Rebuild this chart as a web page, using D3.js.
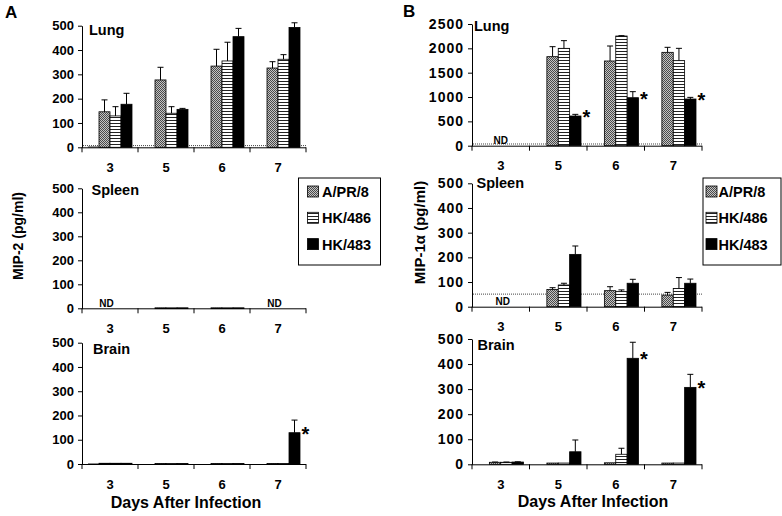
<!DOCTYPE html>
<html><head><meta charset="utf-8">
<script src="https://cdn.jsdelivr.net/npm/d3@7"></script>
<style>
html,body{margin:0;padding:0;background:#fff;}
svg{display:block;font-family:"Liberation Sans",Arial,sans-serif;}
</style></head>
<body>
<svg id="chart" width="782" height="516"></svg>
<script>
// ---------------- data ----------------
const days = ["3", "5", "6", "7"];
const strains = ["Mock", "A/PR/8", "HK/486", "HK/483"];
const legendStrains = ["A/PR/8", "HK/486", "HK/483"];
const ticks500 = [0, 100, 200, 300, 400, 500];
const ticks2500 = [0, 500, 1000, 1500, 2000, 2500];

// Panel A: MIP-2 (rows = strains in order Mock, A/PR/8, HK/486, HK/483; columns = days)
const mip2LungMean = [[3, 0, 0, 0], [146, 277, 334, 326], [129, 140, 355, 362], [177, 156, 455, 493]];
const mip2LungSD = [[0, 0, 0, 0], [49, 52, 69, 26], [38, 27, 77, 19], [45, 4, 34, 19]];
const mip2LungLimit = 7;
const mip2SpleenMean = [[0, 0, 0, 0], [0, 2, 2, 0], [0, 2, 2, 0], [0, 2, 2, 0]];
const mip2SpleenSD = [[0, 0, 0, 0], [0, 0, 0, 0], [0, 0, 0, 0], [0, 0, 0, 0]];
const mip2SpleenND = ["3", "7"];
const mip2BrainMean = [[2, 0, 0, 0], [3, 2, 2, 2], [3, 2, 2, 2], [3, 2, 2, 129]];
const mip2BrainSD = [[0, 0, 0, 0], [0, 0, 0, 0], [0, 0, 0, 0], [0, 0, 0, 52]];
const mip2BrainStars = ["7"];

// Panel B: MIP-1alpha
const mip1LungMean = [[0, 0, 0, 0], [0, 1829, 1740, 1918], [0, 2000, 2253, 1747], [0, 610, 986, 959]];
const mip1LungSD = [[0, 0, 0, 0], [0, 205, 308, 103], [0, 158, 7, 253], [0, 34, 124, 34]];
const mip1LungND = ["3"];
const mip1LungStars = ["5", "6", "7"];
const mip1LungLimit = 35;
const mip1SpleenMean = [[0, 0, 0, 0], [0, 70, 65, 47], [0, 88, 61, 74], [0, 212, 95, 95]];
const mip1SpleenSD = [[0, 0, 0, 0], [0, 7, 16, 11], [0, 7, 7, 44], [0, 34, 16, 17]];
const mip1SpleenND = ["3"];
const mip1SpleenLimit = 51;
const mip1BrainMean = [[0, 0, 0, 0], [8, 5, 6, 5], [8, 5, 40, 5], [9, 50, 423, 307]];
const mip1BrainSD = [[0, 0, 0, 0], [1, 0, 0, 0], [1, 0, 24, 0], [1, 47, 64, 52]];
const mip1BrainStars = ["6", "7"];

// ---------------- drawing ----------------
const svg = d3.select("#chart");
const defs = svg.append("defs");

// crosshatch grey texture
const p1 = defs.append("pattern").attr("id", "pat-apr8").attr("patternUnits", "userSpaceOnUse")
  .attr("width", 2).attr("height", 2);
p1.append("rect").attr("width", 2).attr("height", 2).attr("fill", "#c4c4c4");
p1.append("rect").attr("x", 0).attr("y", 0).attr("width", 1).attr("height", 1).attr("fill", "#4a4a4a");
p1.append("rect").attr("x", 1).attr("y", 1).attr("width", 1).attr("height", 1).attr("fill", "#4a4a4a");
// horizontal stripes
const p2 = defs.append("pattern").attr("id", "pat-hk486").attr("patternUnits", "userSpaceOnUse")
  .attr("width", 4).attr("height", 3);
p2.append("rect").attr("width", 4).attr("height", 3).attr("fill", "#fff");
p2.append("rect").attr("y", 0).attr("width", 4).attr("height", 1).attr("fill", "#222");

const fillOf = { "Mock": "#111", "A/PR/8": "url(#pat-apr8)", "HK/486": "url(#pat-hk486)", "HK/483": "#000" };

function drawPanel(cfg) {
  const g = svg.append("g");
  const x = d3.scaleBand().domain(days).range([cfg.x0, cfg.x1]);
  const xi = d3.scaleBand().domain(strains).range([6, x.bandwidth() - 6]);
  const y = d3.scaleLinear().domain([0, cfg.max]).range([cfg.yb, cfg.yt]);

  // detection limit dotted line
  if (cfg.limit != null) {
    g.append("line").attr("x1", cfg.x0 + 1).attr("x2", cfg.x1)
      .attr("y1", y(cfg.limit)).attr("y2", y(cfg.limit))
      .attr("stroke", "#444").attr("stroke-width", 1).attr("stroke-dasharray", "1,1");
  }

  // bars
  strains.forEach((s, si) => {
    days.forEach((d, di) => {
      const v = cfg.mean[si][di];
      if (v <= 0) return;
      const bx = x(d) + xi(s), bw = xi.bandwidth();
      g.append("rect").attr("x", bx).attr("y", y(v)).attr("width", bw)
        .attr("height", Math.max(0.8, y(0) - y(v)))
        .attr("fill", fillOf[s]).attr("stroke", "#000").attr("stroke-width", s === "Mock" ? 0 : 0.8);
      const sd = cfg.sd[si][di];
      if (sd > 0) {
        const cx = bx + bw / 2;
        g.append("line").attr("x1", cx).attr("x2", cx).attr("y1", y(v)).attr("y2", y(v + sd))
          .attr("stroke", "#000").attr("stroke-width", 1);
        g.append("line").attr("x1", cx - 3).attr("x2", cx + 3).attr("y1", y(v + sd)).attr("y2", y(v + sd))
          .attr("stroke", "#000").attr("stroke-width", 1);
      }
    });
  });

  // stars
  (cfg.stars || []).forEach(d => {
    const di = days.indexOf(d);
    const v = cfg.mean[3][di];
    g.append("text").attr("x", x(d) + xi("HK/483") + xi.bandwidth() + 1.5).attr("y", y(v) + 8)
      .attr("font-size", 20).attr("font-weight", "bold").text("*");
  });

  // ND
  (cfg.nd || []).forEach(d => {
    g.append("text").attr("x", x(d) + x.bandwidth() / 2 - cfg.ndShift).attr("y", y(0) - 1.5)
      .attr("text-anchor", "middle").attr("font-size", 10).attr("font-weight", "bold").text("ND");
  });

  // y axis
  const ya = g.append("g").attr("transform", `translate(${cfg.x0},0)`)
    .call(d3.axisLeft(y).tickValues(cfg.ticks).tickFormat(d3.format("d")).tickSize(4).tickSizeOuter(0).tickPadding(4));
  ya.select(".domain").attr("stroke", "#000");
  ya.selectAll(".tick line").attr("stroke", "#000");
  ya.selectAll("text").attr("font-size", cfg.tickFont).attr("font-weight", "bold")
    .attr("fill", "#000").attr("font-family", "Liberation Sans, Arial, sans-serif")
    .style("letter-spacing", cfg.tickSpacing + "px");

  // x axis line with ticks at band boundaries
  g.append("line").attr("x1", cfg.x0).attr("x2", cfg.x1).attr("y1", y(0) + 0.5).attr("y2", y(0) + 0.5)
    .attr("stroke", "#000");
  days.concat(["end"]).forEach((d, i) => {
    const tx = i < days.length ? x(d) : cfg.x1;
    g.append("line").attr("x1", tx).attr("x2", tx).attr("y1", y(0)).attr("y2", y(0) + 5).attr("stroke", "#000");
  });
  days.forEach(d => {
    g.append("text").attr("x", x(d) + x.bandwidth() / 2).attr("y", y(0) + 20).attr("dy", "0.35em")
      .attr("text-anchor", "middle").attr("font-size", 13).attr("font-weight", "bold").text(d);
  });

  // title
  g.append("text").attr("x", cfg.tx).attr("y", cfg.ty).attr("font-size", 14.5).attr("font-weight", "bold")
    .text(cfg.title);
}

// Panel A
const Ax0 = 82, Ax1 = 306;
drawPanel({ x0: Ax0, x1: Ax1, yb: 147.3, yt: 25.7, max: 500, ticks: ticks500, mean: mip2LungMean, sd: mip2LungSD,
  limit: mip2LungLimit, title: "Lung", tx: 89, ty: 35, tickFont: 13, tickSpacing: 0, ndShift: 3 });
drawPanel({ x0: Ax0, x1: Ax1, yb: 308.3, yt: 188.3, max: 500, ticks: ticks500, mean: mip2SpleenMean, sd: mip2SpleenSD,
  nd: mip2SpleenND, title: "Spleen", tx: 91.5, ty: 195, tickFont: 13, tickSpacing: 0, ndShift: 3.5 });
drawPanel({ x0: Ax0, x1: Ax1, yb: 464, yt: 342.7, max: 500, ticks: ticks500, mean: mip2BrainMean, sd: mip2BrainSD,
  stars: mip2BrainStars, title: "Brain", tx: 93, ty: 354, tickFont: 13, tickSpacing: 0, ndShift: 3 });

// Panel B
const Bx0 = 472, Bx1 = 702;
drawPanel({ x0: Bx0, x1: Bx1, yb: 145.7, yt: 24, max: 2500, ticks: ticks2500, mean: mip1LungMean, sd: mip1LungSD,
  limit: mip1LungLimit, nd: mip1LungND, stars: mip1LungStars, title: "Lung", tx: 474, ty: 30.5,
  tickFont: 14, tickSpacing: 1, ndShift: 0 });
drawPanel({ x0: Bx0, x1: Bx1, yb: 306.7, yt: 183.3, max: 500, ticks: ticks500, mean: mip1SpleenMean, sd: mip1SpleenSD,
  limit: mip1SpleenLimit, nd: mip1SpleenND, title: "Spleen", tx: 476.5, ty: 187.5,
  tickFont: 14, tickSpacing: 1, ndShift: -2 });
drawPanel({ x0: Bx0, x1: Bx1, yb: 464.3, yt: 339, max: 500, ticks: ticks500, mean: mip1BrainMean, sd: mip1BrainSD,
  stars: mip1BrainStars, title: "Brain", tx: 477.5, ty: 349.5, tickFont: 14, tickSpacing: 1, ndShift: 0 });

// panel letters
svg.append("text").attr("x", 5).attr("y", 18).attr("font-size", 17).attr("font-weight", "bold").text("A");
svg.append("text").attr("x", 403).attr("y", 17).attr("font-size", 17).attr("font-weight", "bold").text("B");

// axis titles
svg.append("text").attr("transform", "translate(23,236) rotate(-90)").attr("text-anchor", "middle")
  .attr("font-size", 14).attr("font-weight", "bold").text("MIP-2 (pg/ml)");
svg.append("text").attr("transform", "translate(425,232.5) rotate(-90)").attr("text-anchor", "middle")
  .attr("font-size", 15).attr("font-weight", "bold").text("MIP-1α (pg/ml)");
svg.append("text").attr("x", 186).attr("y", 507.5).attr("text-anchor", "middle")
  .attr("font-size", 16).attr("font-weight", "bold").text("Days After Infection");
svg.append("text").attr("x", 593).attr("y", 507).attr("text-anchor", "middle")
  .attr("font-size", 16).attr("font-weight", "bold").text("Days After Infection");

// legends
function drawLegend(lx, ly, w, h, sx, tx) {
  const g = svg.append("g");
  g.append("rect").attr("x", lx + 0.5).attr("y", ly + 0.5).attr("width", w).attr("height", h)
    .attr("fill", "#fff").attr("stroke", "#000").attr("stroke-width", 1);
  legendStrains.forEach((s, i) => {
    const yy = ly + 8.5 + i * 26.3;
    g.append("rect").attr("x", sx).attr("y", yy).attr("width", 11).attr("height", 11)
      .attr("fill", fillOf[s]).attr("stroke", "#000").attr("stroke-width", 0.8);
    g.append("text").attr("x", tx).attr("y", yy + 11).attr("font-size", 14.5).attr("font-weight", "bold").text(s);
  });
}
drawLegend(298, 177.5, 82, 87, 307.5, 322);
drawLegend(702.5, 177.5, 78, 87, 706, 718.5);
</script>
</body></html>
